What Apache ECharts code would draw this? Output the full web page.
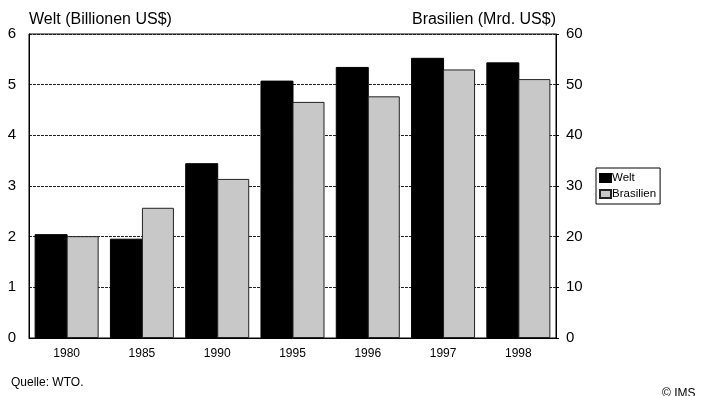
<!DOCTYPE html>
<html>
<head>
<meta charset="utf-8">
<script src="https://cdn.jsdelivr.net/npm/echarts@6/dist/echarts.min.js"></script>
<style>
  html, body { margin: 0; padding: 0; background: #fff; }
  #chart { width: 708px; height: 396px; }
</style>
</head>
<body>
<div id="chart"></div>
<script>
// Exportvolumen: Welt (Billionen US$) und Brasilien (Mrd. US$)
const years = ['1980', '1985', '1990', '1995', '1996', '1997', '1998'];
const welt = [2.05, 1.96, 3.45, 5.08, 5.35, 5.53, 5.44];
const brasilien = [20.1, 25.7, 31.4, 46.6, 47.7, 53.0, 51.1];
const leftTicks = [0, 1, 2, 3, 4, 5, 6];
const rightTicks = [0, 10, 20, 30, 40, 50, 60];

const FONT = 'Liberation Sans, Arial, sans-serif';

const chart = echarts.init(document.getElementById('chart'), null, { renderer: 'canvas' });

chart.setOption({
  backgroundColor: '#ffffff',
  animation: false,
  textStyle: { fontFamily: FONT, color: '#000' },
  grid: { left: 29, right: 152, top: 34, bottom: 58, containLabel: false,
          show: true, borderColor: '#000', borderWidth: 1, backgroundColor: 'transparent' },
  legend: {
    orient: 'vertical',
    left: 596, top: 168,
    data: ['Welt', 'Brasilien'],
    itemWidth: 11, itemHeight: 8, itemGap: 4,
    padding: [4, 4, 4, 3],
    borderColor: '#000', borderWidth: 1,
    textStyle: { fontSize: 11.5, fontFamily: FONT, color: '#000', padding: [0, 0, 0, -4] },
    icon: 'rect'
  },
  xAxis: {
    type: 'category',
    data: years,
    axisLine: { lineStyle: { color: '#000', width: 1 } },
    axisTick: { show: false },
    axisLabel: { fontSize: 12, color: '#000', margin: 10, fontFamily: FONT }
  },
  yAxis: [
    {
      type: 'value', min: leftTicks[0], max: leftTicks[leftTicks.length - 1], interval: 1,
      axisLine: { show: true, lineStyle: { color: '#000' } },
      axisTick: { show: false },
      axisLabel: { fontSize: 15, color: '#000', margin: 13, fontFamily: FONT },
      splitLine: { show: true, lineStyle: { color: '#222', type: [3, 1], width: 1 } }
    },
    {
      type: 'value', min: rightTicks[0], max: rightTicks[rightTicks.length - 1], interval: 10,
      position: 'right',
      axisLine: { show: true, lineStyle: { color: '#000' } },
      axisTick: { show: true, inside: false, length: 3, lineStyle: { color: '#000' } },
      axisLabel: { fontSize: 15, color: '#000', margin: 10, fontFamily: FONT },
      splitLine: { show: false }
    }
  ],
  series: [
    {
      name: 'Welt', type: 'bar', yAxisIndex: 0, data: welt,
      barWidth: 33, barGap: '-3%',
      itemStyle: { color: '#000', borderColor: '#000', borderWidth: 1 }
    },
    {
      name: 'Brasilien', type: 'bar', yAxisIndex: 1, data: brasilien,
      barWidth: 32,
      itemStyle: { color: '#c8c8c8', borderColor: '#222', borderWidth: 1 }
    }
  ],
  graphic: [
    { type: 'text', left: 29, top: 12,
      style: { text: 'Welt (Billionen US$)', fontSize: 16, fontFamily: FONT, fill: '#000' } },
    { type: 'text', right: 152, top: 12,
      style: { text: 'Brasilien (Mrd. US$)', fontSize: 16, fontFamily: FONT, fill: '#000', textAlign: 'right' } },
    { type: 'text', left: 11, top: 377,
      style: { text: 'Quelle: WTO.', fontSize: 12, fontFamily: FONT, fill: '#000' } },
    { type: 'text', left: 662, top: 388,
      style: { text: '© IMS', fontSize: 12, fontFamily: FONT, fill: '#000' } }
  ]
});
</script>
</body>
</html>
